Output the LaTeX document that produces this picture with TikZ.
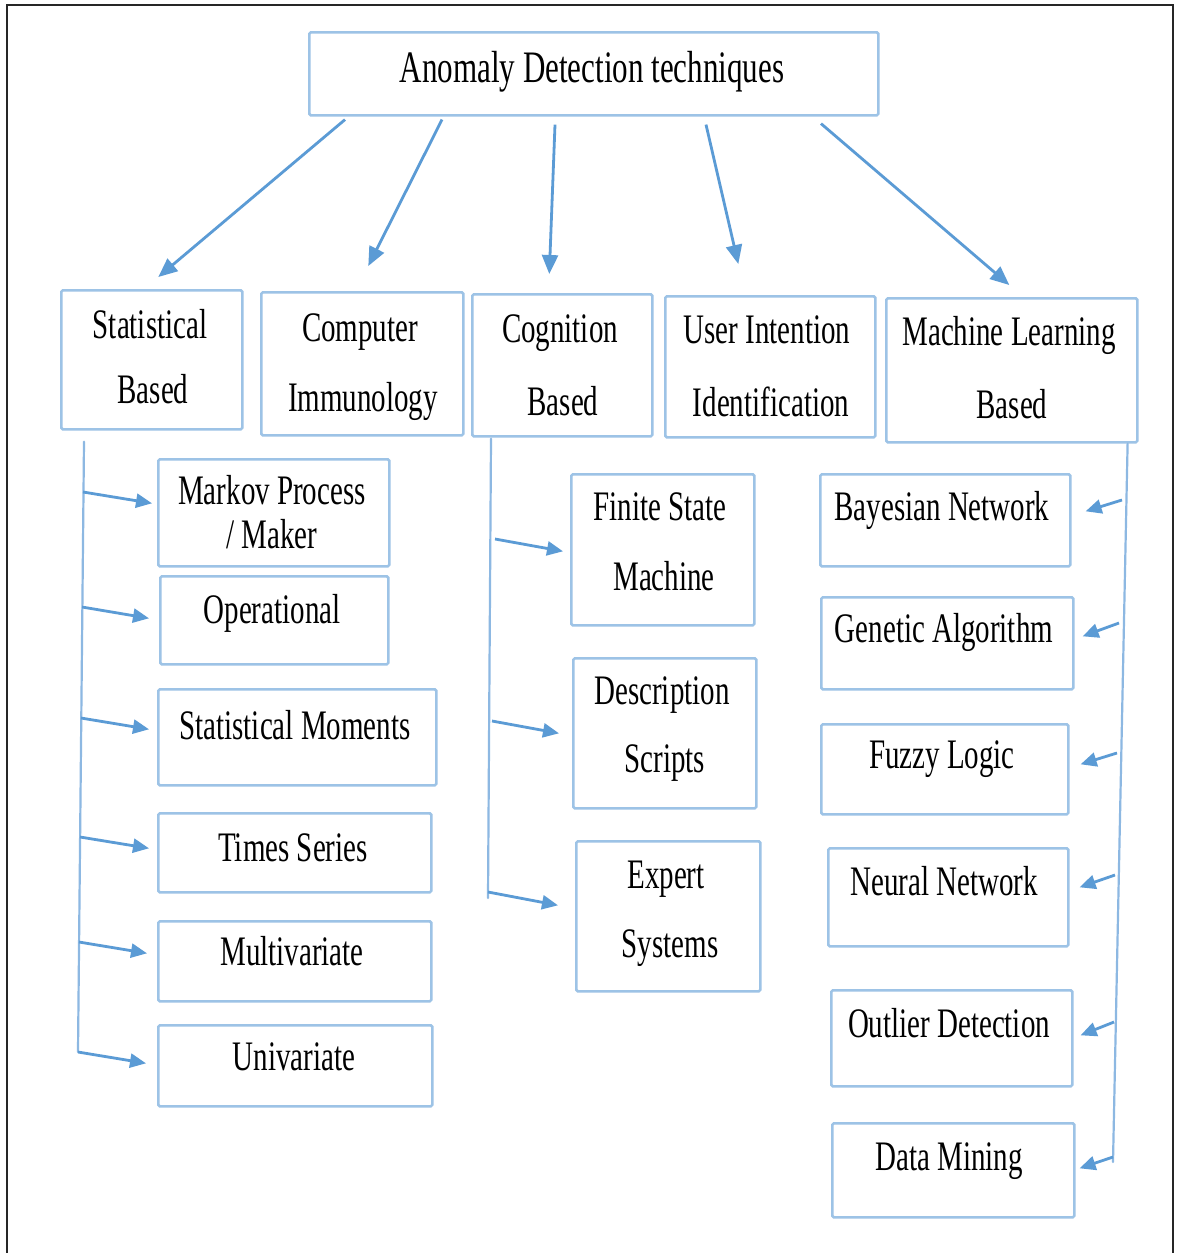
\documentclass[tikz,border=0pt]{standalone}
\usepackage{fontspec}
\setmainfont[FakeStretch=0.69]{Liberation Serif}
\usetikzlibrary{arrows.meta,calc}
\definecolor{boxc}{HTML}{9DC3E6}
\definecolor{linec}{HTML}{8DB8E2}
\definecolor{arrc}{HTML}{5B9BD5}
\begin{document}
\begin{tikzpicture}[x=1pt,y=-1pt,
  box/.style={draw=boxc, line width=2.6pt, rounded corners=1.5pt, anchor=north west, inner sep=0pt},
  lbl/.style={anchor=base, inner sep=0pt, font=\fontsize{42pt}{50pt}\selectfont},
  ttl/.style={anchor=base, inner sep=0pt, font=\fontsize{45pt}{54pt}\selectfont},
  arr/.style={draw=arrc, line width=2.8pt, -{Triangle[length=19pt,width=16pt]}},
  sarr/.style={draw=arrc, line width=2.8pt, -{Triangle[length=16pt,width=14pt]}},
  vline/.style={draw=linec, line width=2.2pt, line cap=round}]
\useasboundingbox (0,0) rectangle (1176,1253);
\fill[white] (0,0) rectangle (1176,1253);
\draw[line width=2pt, black!85] (7,1262) -- (7,5) -- (1173,5) -- (1173,1262);

% top
\node[box, minimum width=569pt, minimum height=83pt] (top) at (308,31) {};
\node[ttl] (tTop) at (592,82) {Anomaly Detection techniques};

% second row
\node[box, minimum width=181pt, minimum height=139pt] (stat) at (60,289) {};
\node[lbl] (tStatA) at (150,338) {Statistical};
\node[lbl] (tStatB) at (153,403) {Based};
\node[box, minimum width=202pt, minimum height=143pt] (comp) at (260,291) {};
\node[lbl] (tCompA) at (360,341) {Computer};
\node[lbl] (tCompB) at (363,411) {Immunology};
\node[box, minimum width=180pt, minimum height=142pt] (cog) at (471,293) {};
\node[lbl] (tCogA) at (560,342) {Cognition};
\node[lbl] (tCogB) at (563,415) {Based};
\node[box, minimum width=210pt, minimum height=141pt] (user) at (664,295) {};
\node[lbl] (tUserA) at (767,343) {User Intention};
\node[lbl] (tUserB) at (771,416) {Identification};
\node[box, minimum width=251pt, minimum height=144pt] (ml) at (885,297) {};
\node[lbl] (tMlA) at (1009,345) {Machine Learning};
\node[lbl] (tMlB) at (1012,418) {Based};

% top arrows
\draw[arr] ($(top.south west)+(37,3)$) -- ($(stat.north)+(6.5,-12)$);
\draw[arr] ($(top.south west)+(134,3)$) -- ($(comp.north)+(6,-25)$);
\draw[arr] ($(top.south west)+(247,8)$) -- ($(cog.north)+(-13,-19)$);
\draw[arr] ($(top.south west)+(398,8)$) -- ($(user.north)+(-32,-31)$);
\draw[arr] ($(top.south west)+(513,7)$) -- ($(ml.north)+(-2.5,-12)$);

% left column
\node[box, minimum width=231pt, minimum height=107pt] (markov) at (157,458) {};
\node[lbl] (tMarkA) at (272,504) {Markov Process};
\node[lbl] (tMarkB) at (272,548) {/ Maker};
\node[box, minimum width=228pt, minimum height=88pt] (oper) at (159,575) {};
\node[lbl] (tOper) at (272,623) {Operational};
\node[box, minimum width=278pt, minimum height=96pt] (moments) at (157,688) {};
\node[lbl] (tMom) at (295,739) {Statistical Moments};
\node[box, minimum width=273pt, minimum height=79pt] (times) at (157,812) {};
\node[lbl] (tTimes) at (293,861) {Times Series};
\node[box, minimum width=273pt, minimum height=80pt] (multi) at (157,920) {};
\node[lbl] (tMulti) at (292,965) {Multivariate};
\node[box, minimum width=274pt, minimum height=81pt] (uni) at (157,1024) {};
\node[lbl] (tUni) at (294,1070) {Univariate};

\coordinate (lEnd) at (78,1052);
\draw[vline] ($(stat.south west)+(24,11)$) -- (lEnd);
\coordinate (l1) at (83,492);
\coordinate (l2) at (82,607);
\coordinate (l3) at (81,718);
\coordinate (l4) at (80,837);
\coordinate (l5) at (79,942);
\draw[sarr] (l1) -- ($(markov.west)+(-5,-9.5)$);
\draw[sarr] (l2) -- ($(oper.west)+(-10,-2)$);
\draw[sarr] (l3) -- ($(moments.west)+(-8,-8)$);
\draw[sarr] (l4) -- ($(times.west)+(-8,-4.5)$);
\draw[sarr] (l5) -- ($(multi.west)+(-10,-8)$);
\draw[sarr] (lEnd) -- ($(uni.west)+(-11,-2.5)$);

% middle column
\node[box, minimum width=183pt, minimum height=151pt] (fsm) at (570,473) {};
\node[lbl] (tFsmA) at (660,520) {Finite State};
\node[lbl] (tFsmB) at (664,590) {Machine};
\node[box, minimum width=183pt, minimum height=150pt] (desc) at (572,657) {};
\node[lbl] (tDescA) at (662,704) {Description};
\node[lbl] (tDescB) at (665,772) {Scripts};
\node[box, minimum width=184pt, minimum height=150pt] (expert) at (575,840) {};
\node[lbl] (tExpA) at (666,888) {Expert};
\node[lbl] (tExpB) at (670,957) {Systems};

\coordinate (mEnd) at (488,898);
\draw[vline] ($(cog.south west)+(20,1)$) -- (mEnd);
\coordinate (m1) at (495,539);
\coordinate (m2) at (492,721);
\coordinate (m3) at (488,892);
\draw[sarr] (m1) -- ($(fsm.west)+(-7,1.5)$);
\draw[sarr] (m2) -- ($(desc.west)+(-13,0)$);
\draw[sarr] (m3) -- ($(expert.west)+(-17,-11)$);

% right column
\node[box, minimum width=250pt, minimum height=92pt] (bayes) at (819,473) {};
\node[lbl] (tBayes) at (942,520) {Bayesian Network};
\node[box, minimum width=252pt, minimum height=92pt] (gen) at (820,596) {};
\node[lbl] (tGen) at (944,642) {Genetic Algorithm};
\node[box, minimum width=247pt, minimum height=90pt] (fuzzy) at (820,723) {};
\node[lbl] (tFuzzy) at (942,768) {Fuzzy Logic};
\node[box, minimum width=240pt, minimum height=98pt] (neural) at (827,847) {};
\node[lbl] (tNeural) at (944,895) {Neural Network};
\node[box, minimum width=241pt, minimum height=96pt] (outlier) at (830,989) {};
\node[lbl] (tOut) at (949,1037) {Outlier Detection};
\node[box, minimum width=242pt, minimum height=94pt] (dm) at (831,1122) {};
\node[lbl] (tDm) at (949,1170) {Data Mining};

\coordinate (rEnd) at (1113,1162);
\draw[vline] ($(ml.south east)+(-11,0)$) -- (rEnd);
\coordinate (r1) at (1122,500);
\coordinate (r2) at (1119,623);
\coordinate (r3) at (1117,753);
\coordinate (r4) at (1115,875);
\coordinate (r5) at (1114,1022);
\coordinate (r6) at (1113,1157);
\draw[sarr] (r1) -- ($(bayes.east)+(14,-9)$);
\draw[sarr] (r2) -- ($(gen.east)+(8,-7)$);
\draw[sarr] (r3) -- ($(fuzzy.east)+(11,-5)$);
\draw[sarr] (r4) -- ($(neural.east)+(10,-10)$);
\draw[sarr] (r5) -- ($(outlier.east)+(7,-3)$);
\draw[sarr] (r6) -- ($(dm.east)+(4,-2)$);
\end{tikzpicture}
\end{document}
